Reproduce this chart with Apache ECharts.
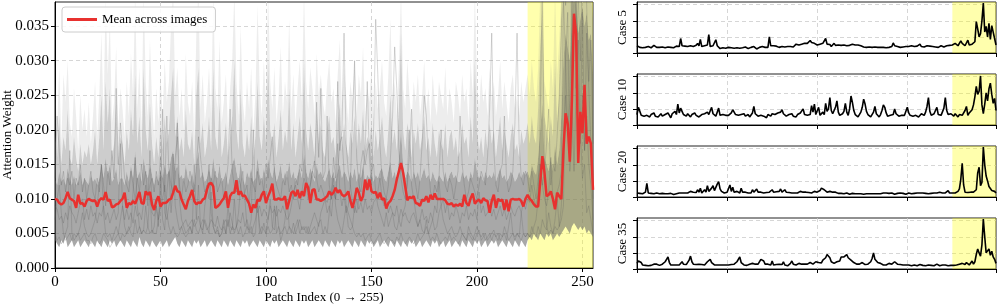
<!DOCTYPE html>
<html><head><meta charset="utf-8">
<script src="https://cdn.jsdelivr.net/npm/echarts@6/dist/echarts.min.js"></script>
<style>html,body{margin:0;padding:0;background:#fff}#c{width:997px;height:307px}</style>
</head><body><div id="c"></div>
<script>
// All attention values below are in units of 1e-3 (e.g. 10.0 -> 0.0100)
const patchIndex = Array.from({length: 256}, (_, i) => i);
const xTickStepMain = 50;
const yTicksMain = [0, 0.005, 0.010, 0.015, 0.020, 0.025, 0.030, 0.035];
const xTickStepCase = 64;
const yTicksCase = [0, 0.02, 0.04, 0.06];
const highlightRange = [224, 255];
const caseNames = ['Case 5', 'Case 10', 'Case 20', 'Case 35'];
const legendLabel = 'Mean across images';

const meanAttn = [
10.0,9.9,9.4,9.2,9.4,10.1,11.0,10.1,9.9,9.7,8.7,10.6,9.3,9.4,8.9,9.7,
10.0,9.8,9.7,9.8,8.9,9.8,10.1,9.9,11.0,9.7,9.9,8.8,8.9,9.2,9.3,9.7,
10.0,10.9,8.7,9.4,9.2,9.7,9.3,10.1,11.0,9.4,9.3,11.1,10.6,11.0,9.2,8.4,
9.7,10.4,8.9,9.4,9.4,9.5,9.9,10.0,10.9,11.9,11.1,11.0,9.9,9.2,8.5,9.7,
10.4,11.3,9.7,9.2,9.5,9.4,9.9,10.1,11.3,12.2,12.3,11.8,8.7,8.9,9.2,9.7,
10.1,11.1,8.7,10.4,10.9,10.9,12.7,10.6,11.1,10.4,10.5,9.9,9.3,8.0,9.2,8.7,
9.9,9.7,10.6,11.1,9.4,10.4,11.1,12.2,9.9,9.9,10.1,9.9,9.9,10.4,8.5,9.7,
10.9,11.1,10.4,11.3,10.1,11.1,10.4,12.3,11.6,9.4,11.3,11.4,9.9,9.9,9.7,9.9,
10.1,10.4,11.1,10.6,10.9,11.6,10.9,11.3,10.6,10.4,10.6,11.1,9.7,8.7,9.9,11.6,
10.9,9.7,10.4,12.8,11.3,12.8,11.1,10.9,11.0,10.1,10.9,9.9,10.1,8.6,9.4,9.7,
10.4,11.3,12.8,14.0,15.2,13.8,11.8,9.8,10.3,10.1,10.4,9.4,9.3,9.0,9.9,9.7,
10.4,9.5,10.6,9.9,10.8,10.0,10.0,10.0,10.0,9.8,9.3,9.2,9.4,8.9,9.2,9.0,
9.3,8.9,10.6,9.4,9.0,10.1,10.8,9.3,9.7,9.9,9.4,10.1,9.8,9.7,8.0,9.7,
10.6,8.7,10.0,9.7,9.9,8.4,9.9,8.2,9.9,10.0,9.9,9.9,10.0,9.7,8.9,10.0,
10.6,10.0,9.7,9.2,8.9,8.9,12.5,16.2,13.8,10.4,10.6,11.1,10.0,8.5,10.9,10.4,
10.0,17.1,22.4,20.9,15.4,24.3,36.8,33.9,15.2,22.6,19.5,26.5,18.0,19.0,18.0,11.3];

// envelope of the grey per-image traces (lowest, dense upper edge, outer edge, spike tops)
const grayMin = [
4,3.5,3,4,3.5,4.5,3,3.5,4,3,3.5,4,3,3.5,4,3.5,
3,4,3.5,3,4,3.5,3,4,3.5,3,4,3.5,4,3,3.5,4,
3.5,3,4,3.5,3,4,3.5,3,4.5,3.5,3,4,3.5,3,4,3.5,
3,3.5,4,3,3.5,4,3,3.5,4,4.5,3.5,3,4,3.5,3,4,
3.5,3,4,3.5,4,3,3.5,4,3,3.5,4,3.5,3,4,3.5,3,
4,3.5,3,4,3.5,3,4,3.5,3,4,3.5,4,3,3.5,4,3.5,
3,4,3.5,3,4,3.5,3,4,3.5,4,3,3.5,4,3.5,3,4,
3.5,3,4,3.5,3,4,3.5,4,3,3.5,4,3,3.5,4,3.5,3,
4,3.5,3,4,3.5,3,4,3.5,4,3,3.5,4,3.5,3,4,3.5,
3,4,3.5,3,4,3.5,4,3,3.5,4,3,3.5,4,3.5,3,4,
3.5,3,4,3.5,3,4,3.5,3,4,3.5,4,3,3.5,4,3,3.5,
4,3.5,3,4,3.5,4,3,3.5,4,3,3.5,4,3,3.5,4,3.5,
3,4,3.5,3,4,3.5,3,4,3.5,4,3,3.5,4,3,3.5,4,
3.5,4,3,3.5,4,3.5,3,4,3.5,3,4,3.5,3,4,3.5,3,
4,4.5,4,5,4.5,4,5,4.5,4,5,4.5,5,4,4.5,5,4.5,
5,5.5,6,5.5,5,6,6.5,6,5.5,6,5.5,6,5,5.5,5,4.5];

const grayHigh = [
13,12,14,12.5,13,12,14.5,13,12,13.5,12,12.5,14,12,13,12.5,
12,13.5,12.5,13,12,13,15,13,16,13.5,15,12.5,13,14.5,12,13,
13,12,14,12.5,15,13,17,13,14,12.5,16,14,13,15,13.5,12,
13.5,12.5,14,13,15,13.5,14,16,17,14,15,13,13.5,12.5,15,13,
12.5,14,12,15,17,13,14,12.5,13,14.5,13,16,13.5,13,15,12.5,
13,14,12,13.5,15,16,14,12.5,15.5,13,12,14,13,14.5,12.5,13,
16,13.5,12.5,14.5,13,16,14,13,15,12.5,13.5,15,12.5,14,13,15.5,
13,14,12.5,13.5,14.5,13,17,14,13,14.5,13.5,12.5,15,13.5,14,13,
12.5,13.5,14.5,13,14,12.5,14,15,13,14,13.5,12.5,14,13,14.5,12.5,
14,13,15,12.5,13.5,13,14,12.5,13.5,13,14,14.5,13,12.5,14,15.5,
13,14,12.5,16,20,15,13,14,13.5,12.5,14,13,14,12.5,13.5,14.5,
13,13.5,12.5,14,13,12.5,13.5,13,12.5,14,12.5,13.5,14,13,13.5,12.5,
12.5,14,13,13.5,12.5,14,13,16,14,13,13.5,12.5,14,13,13.5,13,
14,12.5,13.5,14.5,13,13.5,12.5,13,14,13.5,12.5,13,14,13,14,13.5,
14,13,15,14,13.5,16,20,24,16,15,14,16,14,18,15,17,
22,30,34,32,30,36,40,38,34,36,38,35,37,33,34,28];

const grayUpper = [
20,16,22,15,19,17,23,16,15,19,16,14,18,15,17,16,
18,15,17,20,15,19,25,17,27,21,26,16,18,24,15,19,
18,15,20,17,23,19,28,18,22,16,29,20,17,24,18,15,
19,16,21,17,22,18,20,25,29,19,22,17,19,16,23,18,
17,20,15,25,29,18,21,16,18,22,17,29,19,17,24,16,
18,21,16,19,22,30,20,17,26,18,16,20,17,22,16,19,
27,19,17,22,18,30,20,18,21,16,19,23,17,20,18,26,
17,21,16,19,22,18,30,20,17,21,19,16,23,18,21,17,
16,20,22,18,19,16,21,24,17,21,18,16,20,18,22,17,
21,18,23,17,19,18,21,16,20,17,19,22,18,16,20,25,
18,20,17,23,34,20,17,21,19,16,20,18,21,17,19,22,
17,19,16,21,18,16,20,18,17,21,16,19,20,17,19,16,
17,21,18,19,16,22,18,30,20,17,19,16,20,17,21,18,
20,16,19,22,17,20,18,16,19,21,17,18,16,20,18,19,
21,18,22,19,18,23,32,38,22,20,18,22,19,30,21,25,
36,40,40,40,40,40,40,40,40,40,40,40,40,40,40,36];

const grayMax = [
27,20,29,18,28,24,30,21,19,26,22,17,25,20,23,19,
24,18,22,27,19,25,34,22,39,28,36,21,24,32,20,26,
23,19,27,22,31,25,40,23,29,20,40,27,22,33,24,19,
26,21,28,22,30,24,27,35,40,25,29,22,26,20,31,24,
22,27,19,34,40,23,28,21,24,29,22,40,26,23,33,21,
24,28,20,26,30,40,27,22,35,24,21,27,23,29,20,25,
38,26,22,30,24,40,27,23,29,21,25,32,22,27,24,36,
23,28,21,26,30,24,40,27,23,29,26,22,31,25,28,24,
22,27,30,24,26,21,28,33,23,29,25,21,27,24,30,22,
28,25,32,22,26,24,29,21,27,23,26,30,24,22,28,36,
24,27,22,29,40,26,23,30,25,21,27,24,28,22,25,30,
23,26,21,28,24,22,27,25,23,29,22,26,24,21,27,25,
22,28,24,26,21,30,25,40,27,23,28,24,26,22,29,24,
27,22,25,30,23,27,24,21,26,28,23,25,22,27,24,26,
28,25,30,26,24,29,40,40,27,25,23,30,26,40,28,33,
40,40,40,40,40,40,40,40,40,40,40,40,40,40,40,36];

const case5 = [
9,8.5,7,7.5,6.5,8,7,9,8,7.5,6.5,8,9.5,10,7,8.5,
7,9,7.5,8,6.5,8,7.5,9,7,8,6.5,7.5,8.5,7,8,18,
9,7,8.5,7,8,6.5,9,7.5,8,7,9.5,12,9,17,8,7.5,
9,7,10,23,8,7,9,10.5,16.5,9,7,5.5,6,6.5,7,6,
6.5,7,6,6.5,7.5,6,7,6.5,5.5,6,7,6.5,6,7.5,6,5.5,
6.5,7,6,8,6.5,5,6,7,6.5,8,6,7,5.5,7,20,9,
8,9,7.5,8.5,8,7,9,8,8.5,7.5,8.5,8,9,8,7,7.5,
9,11,12,10,8.5,11,13,12,10,12,14,15.5,13,11,12,11,
10,9.5,11,10,12,10,18,11,9,10.5,8,9,12,9.5,8,10,
8.5,9.5,8,10,8.5,9,8,9.5,10,11,13,10,9,10,8,9,
8,7.5,9,7,8.5,7.5,8,7,6.5,7.5,8,7,6,7,8.5,7,
7.5,6.5,8,7,9,8,12.5,9,10,8,9.5,7,8,7.5,9,8,
6.5,8,7.5,9,7,8,7.5,8.5,7,11,8,9,7.5,8,9,7.5,
8.5,7,8,9,7.5,8.5,7,8,9,8,7.5,8.5,9,8,9.5,8.5,
10,9.5,12,10,9,11,15,12,10,9,11,16,10,9.5,11,12,
14,39,30,20,24,40,62,26,33,20,37,17,34,26,18,10];

const case10 = [
13,22,17,12,14,11,13,12,14,10,13,12,15,11,13,10,
12,14,11,10,13,11,15,12,9,14,12,17,13,26,15,21,
17,13,12,11,14,12,10,13,11,15,12,14,10,12,13,11,
14,12,16,13,11,22,14,12,11,13,21,12,10,13,11,12,
14,12,11,15,19,16,13,11,12,10,13,12,14,11,12,13,
10,12,15,23,14,12,11,13,12,10,11,12,9,13,12,11,
14,12,13,11,15,13,16,19,14,12,11,10,13,12,14,11,
12,10,13,12,15,14,20,13,11,12,14,13,24,16,26,13,
14,22,12,10,16,13,27,17,20,34,18,14,12,22,30,16,
12,11,14,17,27,16,12,20,36,28,18,13,11,10,12,16,
22,32,26,17,13,11,10,12,16,23,14,12,10,13,18,25,
22,15,11,10,12,11,13,20,14,12,11,13,12,10,12,14,
22,15,12,10,11,13,12,11,10,12,14,13,12,16,23,34,
17,12,11,14,15,22,13,11,12,14,21,34,18,13,12,14,
13,11,14,12,10,13,15,12,14,18,23,12,15,14,19,25,
35,48,38,42,61,25,14,26,40,30,45,52,38,27,33,18];

const case20 = [
5,4,4.5,3.5,4,5,6,17,5,4,4.5,5,4,4.5,5,4,
4,3.5,4.5,5,4,3.5,4,5,4.5,4,3,3.5,4,4.5,5,4,
5,4.5,5,6,5,4.5,7,5,6,5,5.5,9,6,11,5,6,
9,6,14,7,5.5,11,14,8,12,16,19,10,7,6,5,5.5,
6,5,15,7,12,6,5.5,7,6,5,11,6,5,6,4.5,5,
7,5,9,6,5.5,10,6,5,6,4.5,5,6,5.5,5,6,7,
9,6,5,6.5,5,7,10,6,5.5,9,6,5,5.5,6,5,6,
5,6.5,5,6,7,5.5,6,5,6,5,5.5,6,5,6.5,7,5,
6,5,8,11,13,9,7,6,5,7,9,6,5.5,6,5,4.5,
5,4.5,5,4,4.5,5,4,3.5,4,4.5,5,4,3.5,4,4.5,4,
4,3.5,4.5,4,5,4,3.5,4,4.5,4,3.5,4,5,4,4.5,5,
7,5,4,4.5,4,5,4,3.5,4,4.5,4,5,4,4.5,4,3.5,
4,5,4.5,4,5,4.5,4,5,6,5,4.5,5,4,4.5,5,4,
5,4.5,4,5,4.5,5,4,6,8,5,4.5,5,4.5,8,5,4.5,
5,4.5,5,6,7,10,22,42,15,6,5,5.5,5,6,5.5,6,
7,9,30,37,14,18,62,40,26,20,13,15,8,9,7,5];

const case35 = [
7,10,12,8,5,4,4.5,5,4,5,4.5,5,6,8,6,5,
4.5,5,6,7,9,12,15,8,5,4.5,5,4,5,6,5,7,
9,6,5,5.5,6,11,16,9,6,5,5.5,5,6,5,5.5,5,
5,7,9,10,12,8,6,5,6,5,4.5,5,6,5,4.5,5,
6,5,7,5.5,5,6,5,9,11,15,8,6,5,5.5,4.5,5,
6,5,7,5,6,5.5,6,8,12,14,10,6,5,6,4.5,5,
10,5,6,5.5,5,6,5,5.5,9,5,6,4,5,7,10,6,
5.5,5,6,7,5,6,5.5,6,5,6,7,8,7,6,8,9,
10,8,9,7.5,11,10,14,18,19,14,9,8,7,6,9,8,
10,15,17,15,17,18,14,15,11,9,8,7,6,8,6,7,
8,6,5.5,7,6,8,9,13,20,12,10,8,6,7,5.5,5,
6,5,6,7,5.5,6,8,9,7,6,5,5.5,6,5,4.5,5,
6,5,4.5,4,6,5,4.5,4,5,5.5,4,4.5,5,4,4.5,5,
5.5,4.5,5,4,4.5,6,5,4,4.5,5,4,5,4.5,4,5,4.5,
5,4.5,6,5,4.5,6,5,7,6,5.5,8,6,5,7,10,6,
9,18,25,20,16,30,62,40,20,18,25,17,22,15,12,7];

const caseSeries = [case5, case10, case20, case35];

// ---------- build ----------
const FONT = "'Liberation Serif', 'Times New Roman', serif";
const UNIT = 1e-3;
const scaled = arr => arr.map(v => v * UNIT);
const diff = (a, b) => a.map((v, i) => Math.max(0, v - b[i]) * UNIT);
const YELLOW = 'rgba(255,255,0,0.32)';
const DASH = {color: '#cccccc', type: [4, 3], width: 0.8};
const mainTickOn = i => i % xTickStepMain === 0;
const caseTickOn = i => i % xTickStepCase === 0 || i === patchIndex.length - 1;
const caseGridOn = i => i % xTickStepCase === 0 && i > 0;

const gridBase = {show: true, borderColor: '#222', borderWidth: 1, outerBoundsMode: 'none', containLabel: false};
const grids = [Object.assign({left: 55, top: 2, width: 538, height: 266}, gridBase)];
const caseTops = [2, 74, 146, 218];
caseTops.forEach(t => grids.push(Object.assign({left: 637, top: t, width: 359, height: 51}, gridBase)));

const xAxes = [{
  type: 'category', gridIndex: 0, data: patchIndex, boundaryGap: false,
  name: 'Patch Index (0 \u2192 255)', nameLocation: 'middle', nameGap: 23, nameMoveOverlap: false,
  nameTextStyle: {fontFamily: FONT, fontSize: 13, color: '#000'},
  axisLine: {show: true, lineStyle: {color: '#000'}},
  axisTick: {show: true, length: 4, lineStyle: {color: '#000'}, interval: (i) => mainTickOn(i)},
  axisLabel: {fontFamily: FONT, fontSize: 15, color: '#000', margin: 7, interval: (i) => mainTickOn(i)},
  splitLine: {show: true, interval: (i) => mainTickOn(i) && i > 0, lineStyle: DASH}
}];
const yAxes = [{
  type: 'value', gridIndex: 0, min: 0, max: 0.0385, interval: 0.005,
  name: 'Attention Weight', nameLocation: 'middle', nameGap: 41, nameMoveOverlap: false,
  nameTextStyle: {fontFamily: FONT, fontSize: 13, color: '#000'},
  axisLine: {show: true, lineStyle: {color: '#000'}},
  axisTick: {show: true, length: 4, lineStyle: {color: '#000'}, customValues: yTicksMain},
  axisLabel: {fontFamily: FONT, fontSize: 15, color: '#000', margin: 6, customValues: yTicksMain, formatter: v => v.toFixed(3)},
  splitLine: {show: true, lineStyle: DASH}
}];
caseNames.forEach((nm, k) => {
  xAxes.push({
    type: 'category', gridIndex: k + 1, data: patchIndex, boundaryGap: false,
    axisLine: {show: true, lineStyle: {color: '#000'}},
    axisTick: {show: true, length: 4, lineStyle: {color: '#000'}, interval: (i) => caseTickOn(i)},
    axisLabel: {show: false},
    splitLine: {show: true, interval: (i) => caseGridOn(i), lineStyle: DASH}
  });
  yAxes.push({
    type: 'value', gridIndex: k + 1, min: 0, max: 0.0634, interval: 0.02,
    name: nm, nameLocation: 'middle', nameGap: 8, nameMoveOverlap: false,
    nameTextStyle: {fontFamily: FONT, fontSize: 13, color: '#000'},
    axisLine: {show: true, lineStyle: {color: '#000'}},
    axisTick: {show: true, length: 4, lineStyle: {color: '#000'}, customValues: yTicksCase},
    axisLabel: {show: false},
    splitLine: {show: true, lineStyle: DASH}
  });
});

const hl = {silent: true, itemStyle: {color: YELLOW}, data: [[{xAxis: highlightRange[0]}, {xAxis: highlightRange[1]}]]};
const noLine = {opacity: 0, width: 0};
const series = [
  {type: 'line', xAxisIndex: 0, yAxisIndex: 0, stack: 'g', data: scaled(grayMin), symbol: 'none', lineStyle: noLine, silent: true, z: 1, markArea: hl},
  {type: 'line', xAxisIndex: 0, yAxisIndex: 0, stack: 'g', data: diff(grayHigh, grayMin), symbol: 'none', lineStyle: noLine, silent: true, z: 2, areaStyle: {color: 'rgba(105,105,105,0.58)', opacity: 1}},
  {type: 'line', xAxisIndex: 0, yAxisIndex: 0, stack: 'g', data: diff(grayUpper, grayHigh), symbol: 'none', lineStyle: noLine, silent: true, z: 2, areaStyle: {color: 'rgba(130,130,130,0.4)', opacity: 1}},
  {type: 'line', xAxisIndex: 0, yAxisIndex: 0, stack: 'g', data: diff(grayMax, grayUpper), symbol: 'none', lineStyle: noLine, silent: true, z: 2, areaStyle: {color: 'rgba(150,150,150,0.17)', opacity: 1}}
];
caseSeries.forEach(arr => series.push({
  type: 'line', xAxisIndex: 0, yAxisIndex: 0, data: scaled(arr), symbol: 'none', silent: true, z: 3,
  lineStyle: {color: 'rgba(90,90,90,0.3)', width: 0.8}
}));
series.push({
  name: legendLabel, type: 'line', xAxisIndex: 0, yAxisIndex: 0, data: scaled(meanAttn), symbol: 'none', z: 10,
  itemStyle: {color: '#e8312f'}, lineStyle: {color: '#e8312f', width: 2.5}
});
caseSeries.forEach((arr, k) => series.push({
  type: 'line', xAxisIndex: k + 1, yAxisIndex: k + 1, data: scaled(arr), symbol: 'none', silent: true, z: 5,
  lineStyle: {color: '#000', width: 1.6}, markArea: hl
}));

const chart = echarts.init(document.getElementById('c'), null, {renderer: 'canvas'});
chart.setOption({
  animation: false,
  backgroundColor: '#fff',
  grid: grids,
  xAxis: xAxes,
  yAxis: yAxes,
  legend: {
    data: [{name: legendLabel, icon: 'rect'}],
    left: 62, top: 7, itemWidth: 30, itemHeight: 3, padding: [6, 8, 6, 5],
    backgroundColor: 'rgba(255,255,255,0.85)', borderColor: '#cccccc', borderWidth: 1, borderRadius: 3,
    textStyle: {fontFamily: FONT, fontSize: 13, color: '#000'}
  },
  series: series
});
</script></body></html>
